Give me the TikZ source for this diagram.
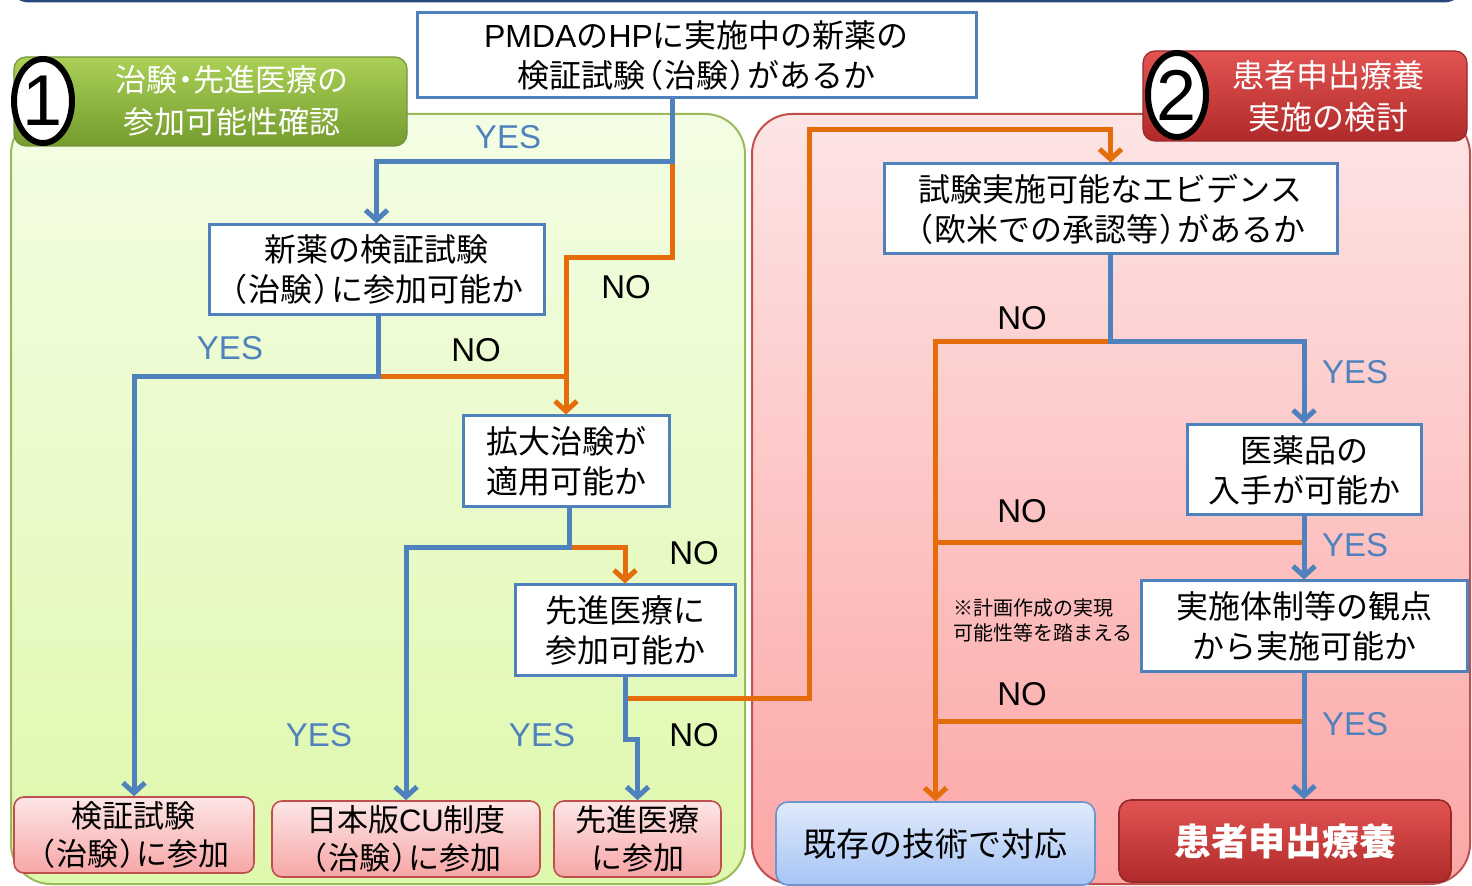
\documentclass[tikz,border=0pt]{standalone}
\usepackage{fontspec}
\setmainfont{Noto Sans CJK JP}
\newfontfamily\pal[RawFeature=+palt]{Noto Sans CJK JP}
\newfontfamily\latinf{Liberation Sans}
\newcommand{\lpar}{{\pal （}\kern0.08em}
\newcommand{\rpar}{\kern0.08em{\pal ）}}
\newcommand{\mdot}{{\pal ・}}
\newcommand{\lt}[1]{{\latinf #1}}
\usetikzlibrary{shapes.geometric,arrows.meta}
\definecolor{lblue}{RGB}{79,129,189}
\definecolor{lorange}{RGB}{228,108,10}
\definecolor{topbar}{RGB}{36,72,124}
\definecolor{gpanelT}{RGB}{243,253,228}
\definecolor{gpanelB}{RGB}{222,248,172}
\definecolor{gpanelD}{RGB}{155,187,89}
\definecolor{rpanelT}{RGB}{253,228,228}
\definecolor{rpanelB}{RGB}{252,166,166}
\definecolor{rpanelD}{RGB}{192,80,77}
\definecolor{ghT}{RGB}{170,208,86}
\definecolor{ghB}{RGB}{116,156,46}
\definecolor{ghD}{RGB}{118,146,60}
\definecolor{rhT}{RGB}{226,84,82}
\definecolor{rhB}{RGB}{176,42,42}
\definecolor{rhD}{RGB}{150,40,40}
\definecolor{pkT}{RGB}{253,230,230}
\definecolor{pkB}{RGB}{247,166,166}
\definecolor{bgT}{RGB}{224,234,252}
\definecolor{bgB}{RGB}{166,196,244}
\definecolor{bgD}{RGB}{110,150,205}
\begin{document}
\begin{tikzpicture}[x=0.5pt,y=-0.5pt,
  qbox/.style={draw=lblue, line width=1.5pt, fill=white, align=center, inner sep=0pt,
    font=\fontsize{16pt}{20pt}\selectfont},
  pbox/.style={draw=rpanelD, line width=0.8pt, rounded corners=5pt, top color=pkT, bottom color=pkB,
    align=center, inner sep=0pt, font=\fontsize{15.5pt}{19pt}\selectfont},
  bl/.style={draw=lblue, line width=2.5pt},
  orl/.style={draw=lorange, line width=2.5pt},
  tip/.style={-{Straight Barb[length=5pt,width=11pt]}},
  yes/.style={text=lblue, inner sep=0pt, font=\latinf\fontsize{16.5pt}{18pt}\selectfont},
  no/.style={text=black, inner sep=0pt, font=\latinf\fontsize{16.5pt}{18pt}\selectfont},
  numc/.style={ellipse, draw=black, line width=3pt, fill=white, minimum width=29pt, minimum height=42pt,
    inner sep=0pt, font=\latinf\fontsize{36pt}{36pt}\selectfont},
  hdrtext/.style={text=white, align=center, inner sep=0pt, font=\fontsize{15.5pt}{21pt}\selectfont}
]
\useasboundingbox (0,0) rectangle (1472,886);
% top bar
\draw[topbar, line width=1.5pt, fill=white, rounded corners=10pt] (9,-60) rectangle (1464,1);
% panels
\path[draw=gpanelD, line width=1pt, top color=gpanelT, bottom color=gpanelB, rounded corners=20pt]
  (11,114) rectangle (745,884);
\path[draw=rpanelD, line width=1pt, top color=rpanelT, bottom color=rpanelB, rounded corners=20pt]
  (752,114) rectangle (1470,884);
% headers
\node[draw=ghD, line width=0.6pt, top color=ghT, bottom color=ghB, rounded corners=6pt,
  minimum width=196.5pt, minimum height=44.5pt, inner sep=0pt] (hdr1) at (210.5,101.5) {};
\node[hdrtext] (hdr1t) at (232,101) {治験\mdot 先進医療の\\参加可能性確認};
\node[numc] (c1) at (43,101) {1};
\node[draw=rhD, line width=0.6pt, top color=rhT, bottom color=rhB, rounded corners=6pt,
  minimum width=162pt, minimum height=45pt, inner sep=0pt] (hdr2) at (1305,96) {};
\node[hdrtext, font=\fontsize{16pt}{21pt}\selectfont] (hdr2t) at (1328,96) {患者申出療養\\実施の検討};
\node[numc] (c2) at (1177,95) {2};
% question boxes
\node[qbox, minimum width=279.5pt, minimum height=42.5pt] (top) at (696.5,55.5)
  {\lt{PMDA}の\lt{HP}に実施中の新薬の\\検証試験\lpar 治験\rpar があるか};
\node[qbox, minimum width=167.5pt, minimum height=45pt] (qa) at (376.5,270)
  {新薬の検証試験\\\lpar 治験\rpar に参加可能か};
\node[qbox, minimum width=103pt, minimum height=45.5pt] (qb) at (566,461.5)
  {拡大治験が\\適用可能か};
\node[qbox, minimum width=110pt, minimum height=45.5pt] (qc) at (625,630.5)
  {先進医療に\\参加可能か};
\node[qbox, minimum width=226.5pt, minimum height=45pt] (qd) at (1110.5,209)
  {試験実施可能なエビデンス\\\lpar 欧米での承認等\rpar があるか};
\node[qbox, minimum width=117pt, minimum height=45pt] (qe) at (1304,470)
  {医薬品の\\入手が可能か};
\node[qbox, minimum width=163pt, minimum height=45.5pt] (qf) at (1304,626.5)
  {実施体制等の観点\\から実施可能か};
% result boxes
\node[pbox, minimum width=120pt, minimum height=38pt] (r1) at (134,835) {検証試験\\\lpar 治験\rpar に参加};
\node[pbox, minimum width=134pt, minimum height=38pt] (r2) at (406,839) {日本版\lt{CU}制度\\\lpar 治験\rpar に参加};
\node[pbox, minimum width=83.5pt, minimum height=38pt] (r3) at (637.5,839) {先進医療\\に参加};
\node[draw=bgD, line width=0.8pt, rounded corners=6pt, top color=bgT, bottom color=bgB,
  minimum width=159.5pt, minimum height=41.5pt, inner sep=0pt, font=\fontsize{16.5pt}{20pt}\selectfont]
  (rg) at (935.5,843.5) {既存の技術で対応};
\node[draw=rhD, line width=0.8pt, rounded corners=6pt, top color=rhT, bottom color=rhB,
  minimum width=166pt, minimum height=41pt, inner sep=0pt, text=white, font=\bfseries\fontsize{18.5pt}{20pt}\selectfont]
  (rh) at (1285,841) {患者申出療養};
% note
\node[anchor=west, align=left, inner sep=0pt, font=\fontsize{10pt}{12.5pt}\selectfont] (note) at (953,620)
  {※計画作成の実現\\可能性等を踏まえる};
% junction coordinates
\coordinate (j1) at (672,162);
\coordinate (k0) at (672,258);
\coordinate (j2) at (378,377);
\coordinate (j3) at (569,548);
\coordinate (j4) at (625,740);
\coordinate (j5) at (625,699);
\coordinate (k1) at (809,130);
\coordinate (j6) at (1110.5,342);
\coordinate (j7) at (1304,543);
\coordinate (j8) at (1304,722);
% orange connectors
\draw[orl, tip] (j1) -- (k0) -| (qb.north);
\draw[orl] (j2) -- (j2 -| qb.north);
\draw[orl, tip] (j3) -| (qc.north);
\draw[orl, tip] (j5) -| (k1) -| (qd.north);
\draw[orl, tip] (j6) -| (rg.north);
\draw[orl] (j7) -- (j7 -| rg.north);
\draw[orl] (j8) -- (j8 -| rg.north);
% blue connectors
\draw[bl, tip] (top.south -| j1) -- (j1) -| (qa.north);
\draw[bl, tip] (qa.south -| j2) -- (j2) -| (r1.north);
\draw[bl, tip] (qb.south -| j3) -- (j3) -| (r2.north);
\draw[bl, tip] (qc.south) -- (j4) -| (r3.north);
\draw[bl, tip] (qd.south -| j6) -- (j6) -| (qe.north);
\draw[bl, tip] (qe.south) -- (qf.north);
\draw[bl, tip] (qf.south) -- (qf.south |- rh.north);
% labels
\node[yes] (y1) at (508,137) {YES};
\node[yes] (y2) at (230,348) {YES};
\node[yes] (y3) at (319,735) {YES};
\node[yes] (y4) at (542,735) {YES};
\node[yes] (y5) at (1355,372) {YES};
\node[yes] (y6) at (1355,545) {YES};
\node[yes] (y7) at (1355,724) {YES};
\node[no] (n1) at (626,287) {NO};
\node[no] (n2) at (476,350) {NO};
\node[no] (n3) at (694,553) {NO};
\node[no] (n4) at (694,735) {NO};
\node[no] (n5) at (1022,318) {NO};
\node[no] (n6) at (1022,511) {NO};
\node[no] (n7) at (1022,694) {NO};
\end{tikzpicture}
\end{document}
